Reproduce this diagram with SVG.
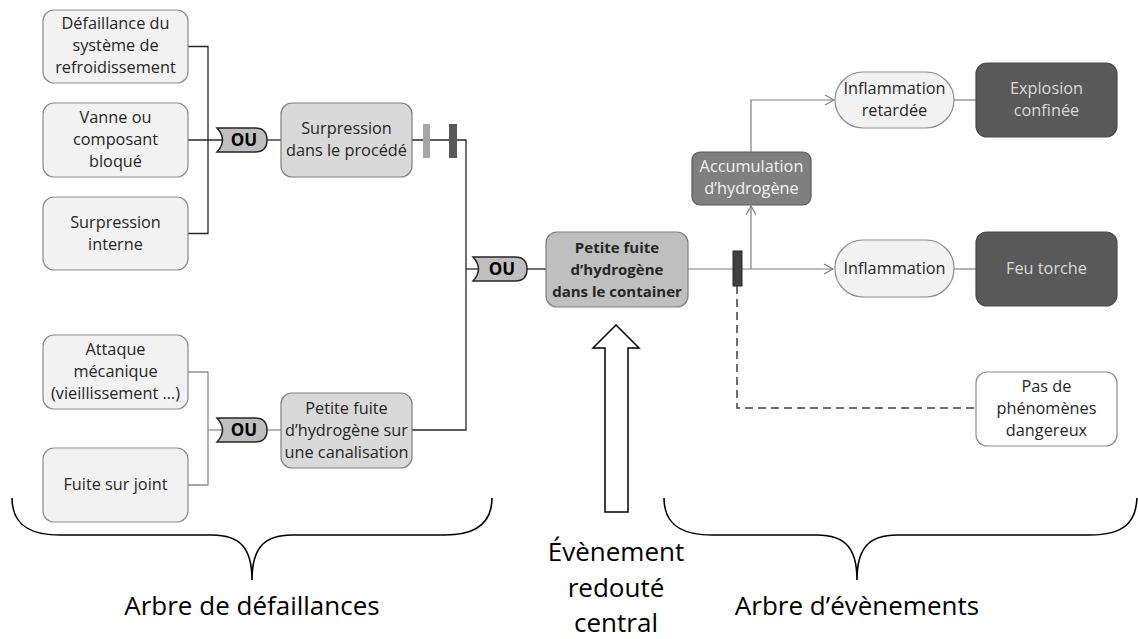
<svg xmlns="http://www.w3.org/2000/svg" width="1138" height="639" viewBox="0 0 1138 639">
<style>
text{font-family:"Open Sans","Liberation Sans",sans-serif;font-size:16.3px;fill:#262626;text-anchor:middle}
.lb{fill:#f2f2f2;stroke:#8c8c8c;stroke-width:1.2}
.mb{fill:#d9d9d9;stroke:#7f7f7f;stroke-width:1.2}
.cb{fill:#bfbfbf;stroke:#7f7f7f;stroke-width:1.2}
.db{fill:#7f7f7f;stroke:#595959;stroke-width:1.2}
.xb{fill:#595959;stroke:#4a4a4a;stroke-width:1.2}
.wb{fill:#ffffff;stroke:#8c8c8c;stroke-width:1.2}
.gate{fill:#bfbfbf;stroke:#262626;stroke-width:1.5}
.gt{font-weight:bold;font-size:17px;fill:#000}
.bd{font-weight:bold;font-size:15px}
.dk{fill:none;stroke:#262626;stroke-width:1.3}
.lt{fill:none;stroke:#8c8c8c;stroke-width:1.3}
.ev{fill:none;stroke:#7f7f7f;stroke-width:1.2}
.big{font-size:26px;fill:#000}
.wt{fill:#f2f2f2}
.gy{fill:#d9d9d9}
</style>
<defs>
<marker id="ch" markerWidth="12" markerHeight="12" refX="10" refY="6" orient="auto" markerUnits="userSpaceOnUse">
<path d="M1,1 L10,6 L1,11" fill="none" stroke="#7f7f7f" stroke-width="1.2"/>
</marker>
</defs>

<g id="connectors">
<path class="dk" d="M188,46.5 H208 V233.5 H188"/>
<path class="dk" d="M188,140 H222"/>
<path class="dk" d="M267,140 H281"/>
<path class="dk" d="M412,140 H466 V430 H412"/>
<path class="dk" d="M466,269 H478"/>
<path class="dk" d="M527,269 H546"/>
<path class="lt" d="M188,372 H208 V485 H188"/>
<path class="lt" d="M208,430 H222"/>
<path class="lt" d="M267,430 H281"/>
<path class="ev" d="M688,269 H833" marker-end="url(#ch)"/>
<path class="ev" d="M751,269 V206" marker-end="url(#ch)"/>
<path class="ev" d="M751,152 V100 H834" marker-end="url(#ch)"/>
<path class="ev" d="M954,100 H976"/>
<path class="ev" d="M954,269 H976"/>
<path d="M737,286 V408 H976" fill="none" stroke="#404040" stroke-width="1.5" stroke-dasharray="8,5"/>
<rect x="423" y="124" width="7" height="34" fill="#a6a6a6"/>
<rect x="449" y="124" width="8" height="34" fill="#595959"/>
<rect x="733" y="251" width="9" height="35" fill="#404040" stroke="#262626" stroke-width="1"/>
</g>

<g id="n1"><rect class="lb" x="43" y="10" width="145" height="73" rx="11"/>
<text x="115.5" y="29">Défaillance du</text><text x="115.5" y="51">système de</text><text x="115.5" y="73">refroidissement</text></g>
<g id="n2"><rect class="lb" x="43" y="103" width="145" height="74" rx="11"/>
<text x="115.5" y="123">Vanne ou</text><text x="115.5" y="145">composant</text><text x="115.5" y="167">bloqué</text></g>
<g id="n3"><rect class="lb" x="43" y="197" width="145" height="73" rx="11"/>
<text x="115.5" y="228">Surpression</text><text x="115.5" y="250">interne</text></g>

<g id="g1"><path class="gate" d="M217,128 H255 Q267,128 267,140 Q267,152 255,152 H217 Q228,140 217,128 Z"/><text class="gt" x="244" y="146">OU</text></g>

<g id="n4"><rect class="mb" x="281" y="103" width="131" height="74" rx="11"/>
<text x="346.5" y="134">Surpression</text><text x="346.5" y="156">dans le procédé</text></g>

<g id="n5"><rect class="lb" x="43" y="335" width="145" height="74" rx="11"/>
<text x="115.5" y="355">Attaque</text><text x="115.5" y="377">mécanique</text><text x="115.5" y="399">(vieillissement …)</text></g>
<g id="n6"><rect class="lb" x="43" y="448" width="145" height="74" rx="11"/>
<text x="115.5" y="490">Fuite sur joint</text></g>

<g id="g2"><path class="gate" d="M217,418 H255 Q267,418 267,430 Q267,442 255,442 H217 Q228,430 217,418 Z"/><text class="gt" x="244" y="436">OU</text></g>

<g id="n7"><rect class="mb" x="281" y="393" width="131" height="75" rx="11"/>
<text x="346.5" y="414">Petite fuite</text><text x="346.5" y="436">d’hydrogène sur</text><text x="346.5" y="458">une canalisation</text></g>

<g id="g3"><path class="gate" d="M473,257 H515 Q527,257 527,269 Q527,281 515,281 H473 Q484,269 473,257 Z"/><text class="gt" x="502" y="275">OU</text></g>

<g id="n8"><rect class="cb" x="546" y="232" width="142" height="75" rx="11"/>
<text class="bd" x="617" y="253">Petite fuite</text><text class="bd" x="617" y="275">d’hydrogène</text><text class="bd" x="617" y="297">dans le container</text></g>

<g id="n9"><rect class="db" x="692" y="152" width="119" height="53" rx="8"/>
<text class="wt" x="751.5" y="172">Accumulation</text><text class="wt" x="751.5" y="194">d’hydrogène</text></g>

<g id="n10"><rect class="lb" x="835" y="72" width="119" height="56" rx="28"/>
<text x="894.5" y="94">Inflammation</text><text x="894.5" y="116">retardée</text></g>
<g id="n11"><rect class="xb" x="976" y="63" width="141" height="74" rx="11"/>
<text class="gy" x="1046.5" y="94">Explosion</text><text class="gy" x="1046.5" y="116">confinée</text></g>

<g id="n12"><rect class="lb" x="835" y="240" width="119" height="57" rx="28"/>
<text x="894.5" y="274">Inflammation</text></g>
<g id="n13"><rect class="xb" x="976" y="232" width="141" height="74" rx="11"/>
<text class="gy" x="1046.5" y="274">Feu torche</text></g>

<g id="n14"><rect class="wb" x="976" y="372" width="141" height="74" rx="11"/>
<text x="1046.5" y="392">Pas de</text><text x="1046.5" y="414">phénomènes</text><text x="1046.5" y="436">dangereux</text></g>

<g id="arrow"><path d="M616,325 L639,348 H628 V512 H605 V348 H593 Z" fill="#ffffff" stroke="#000" stroke-width="1.5"/></g>

<g id="braces" fill="none" stroke="#000" stroke-width="1.6">
<path d="M12,498 C12,522 26,535 60,535 H212 C240,535 252,548 252,580 C252,548 264,535 292,535 H445 C478,535 492,522 492,498"/>
<path d="M664,498 C664,522 678,535 712,535 H817 C845,535 857,548 857,580 C857,548 869,535 897,535 H1090 C1124,535 1136,522 1137,498"/>
</g>

<text class="big" x="252" y="615">Arbre de défaillances</text>
<text class="big" x="616" y="561">Évènement</text>
<text class="big" x="616" y="597">redouté</text>
<text class="big" x="616" y="632">central</text>
<text class="big" x="857" y="615">Arbre d’évènements</text>
</svg>
